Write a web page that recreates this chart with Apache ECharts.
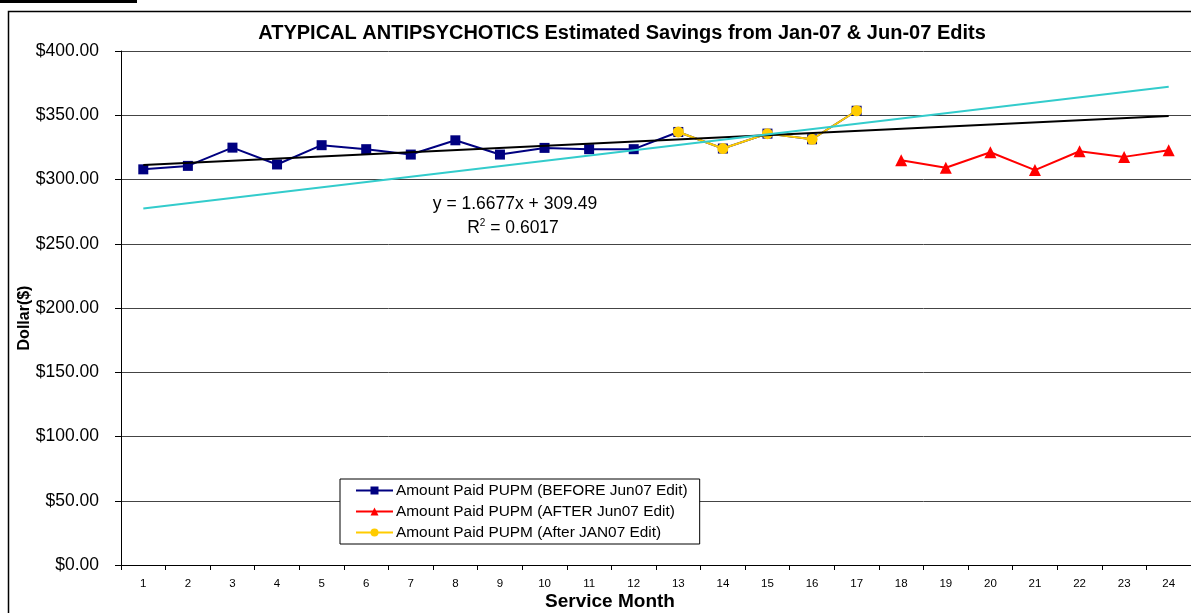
<!DOCTYPE html>
<html>
<head>
<meta charset="utf-8">
<script src="https://cdn.jsdelivr.net/npm/echarts@6/dist/echarts.min.js"></script>
<style>
html,body{margin:0;padding:0;background:#fff;}
#chart{width:1191px;height:613px;}
</style>
</head>
<body>
<div id="chart"></div>
<script>
const months = ['1','2','3','4','5','6','7','8','9','10','11','12','13','14','15','16','17','18','19','20','21','22','23','24'];
const yTicks = [0, 50, 100, 150, 200, 250, 300, 350, 400];
const beforeJun07 = [307.9, 310.6, 324.8, 311.7, 326.7, 323.6, 319.4, 330.5, 319.4, 324.6, 323.6, 323.6, 337.0, 324.1, 335.7, 331.3, 353.5, null, null, null, null, null, null, null];
const afterJun07 = [null, null, null, null, null, null, null, null, null, null, null, null, null, null, null, null, null, 315.0, 309.1, 321.2, 307.3, 322.0, 317.6, 322.8];
const afterJan07 = [null, null, null, null, null, null, null, null, null, null, null, null, 337.0, 324.1, 335.7, 331.3, 353.5, null, null, null, null, null, null, null];
const blackTrendEnds = [311.2, 349.5];
const cyanTrendEnds = [277.5, 372.1];
const seriesNames = ['Amount Paid PUPM (BEFORE Jun07 Edit)', 'Amount Paid PUPM (AFTER Jun07 Edit)', 'Amount Paid PUPM (After JAN07 Edit)'];
const titleText = 'ATYPICAL ANTIPSYCHOTICS Estimated Savings from Jan-07 & Jun-07 Edits';
const xAxisTitle = 'Service Month';
const yAxisTitle = 'Dollar($)';
const eqText = 'y = 1.6677x + 309.49';
const r2Text = '0.6017';

const chart = echarts.init(document.getElementById('chart'), null, {renderer: 'canvas'});
const FONT = 'Liberation Sans, Arial, sans-serif';
const last = months.length - 1;

chart.setOption({
  animation: false,
  backgroundColor: '#fff',
  title: {
    text: titleText, left: 617, top: 18, textAlign: 'center',
    textStyle: {fontFamily: FONT, fontSize: 20, fontWeight: 'bold', color: '#000'}
  },
  grid: {left: 121, top: 51, right: 0, bottom: 48, containLabel: false, outerBoundsMode: 'none'},
  legend: {
    orient: 'vertical', left: 340, top: 479,
    padding: [4, 12, 4, 15],
    itemGap: 6, itemWidth: 37, itemHeight: 10,
    borderColor: '#000', borderWidth: 1, backgroundColor: '#fff',
    data: seriesNames,
    textStyle: {fontFamily: FONT, fontSize: 15.4, color: '#000', padding: [0, 0, 0, -2], lineHeight: 15}
  },
  xAxis: {
    type: 'category', data: months, boundaryGap: true,
    axisLine: {lineStyle: {color: '#000', width: 1}},
    axisTick: {show: true, length: 5, alignWithLabel: false, lineStyle: {color: '#000'}},
    axisLabel: {fontFamily: FONT, fontSize: 11.5, color: '#000', margin: 13},
    splitLine: {show: false}
  },
  yAxis: {
    type: 'value', min: yTicks[0], max: yTicks[yTicks.length - 1], interval: 50,
    axisLine: {show: true, lineStyle: {color: '#000', width: 1}},
    axisTick: {show: true, inside: false, length: 6, lineStyle: {color: '#000'}},
    axisLabel: {fontFamily: FONT, fontSize: 17.5, color: '#000', margin: 22,
      formatter: v => '$' + v.toFixed(2)},
    splitLine: {show: true, lineStyle: {color: '#444', width: 1}}
  },
  series: [
    {
      name: seriesNames[0], type: 'line', data: beforeJun07, z: 2,
      symbol: 'rect', symbolSize: 10, connectNulls: false,
      itemStyle: {color: '#000080'}, lineStyle: {color: '#000080', width: 2}
    },
    {
      name: seriesNames[1], type: 'line', data: afterJun07, z: 2,
      symbol: 'triangle', symbolSize: 12,
      itemStyle: {color: '#FF0000'}, lineStyle: {color: '#FF0000', width: 2}
    },
    {
      name: seriesNames[2], type: 'line', data: afterJan07, z: 3,
      symbol: 'circle', symbolSize: 11,
      itemStyle: {color: '#FFCC00'},
      lineStyle: {color: '#FFCC00', width: 2}
    },
    {
      name: 'trendBlack', type: 'line', z: 4, symbol: 'none', silent: true,
      data: [[0, blackTrendEnds[0]], [last, blackTrendEnds[1]]],
      lineStyle: {color: '#000', width: 2}
    },
    {
      name: 'trendCyan', type: 'line', z: 4, symbol: 'none', silent: true,
      data: [[0, cyanTrendEnds[0]], [last, cyanTrendEnds[1]]],
      lineStyle: {color: '#33CCCC', width: 2}
    }
  ],
  graphic: [
    {type: 'rect', shape: {x: 0, y: 0, width: 137, height: 3}, style: {fill: '#000'}, z: 10},
    {type: 'rect', shape: {x: 8.5, y: 11.5, width: 1200, height: 700}, style: {fill: 'none', stroke: '#000', lineWidth: 1.5}, z: 10, silent: true},
    {type: 'text', x: 610, y: 602, z: 10,
      style: {text: xAxisTitle, font: 'bold 19px ' + FONT, fill: '#000', textAlign: 'center', textVerticalAlign: 'middle'}},
    {type: 'text', x: 25, y: 318, rotation: Math.PI / 2, z: 10,
      style: {text: yAxisTitle, font: 'bold 16px ' + FONT, fill: '#000', textAlign: 'center', textVerticalAlign: 'middle'}},
    {type: 'text', x: 515, y: 204, z: 10,
      style: {text: eqText, font: '17.5px ' + FONT, fill: '#000', textAlign: 'center', textVerticalAlign: 'middle'}},
    {type: 'text', x: 513, y: 228, z: 10,
      style: {text: 'R{sup|2} = ' + r2Text, font: '17.5px ' + FONT, fill: '#000', textAlign: 'center', textVerticalAlign: 'middle',
        rich: {sup: {fontSize: 10, verticalAlign: 'top', padding: [0, 0, 9, 0], fontFamily: FONT}}}}
  ]
});
</script>
</body>
</html>
